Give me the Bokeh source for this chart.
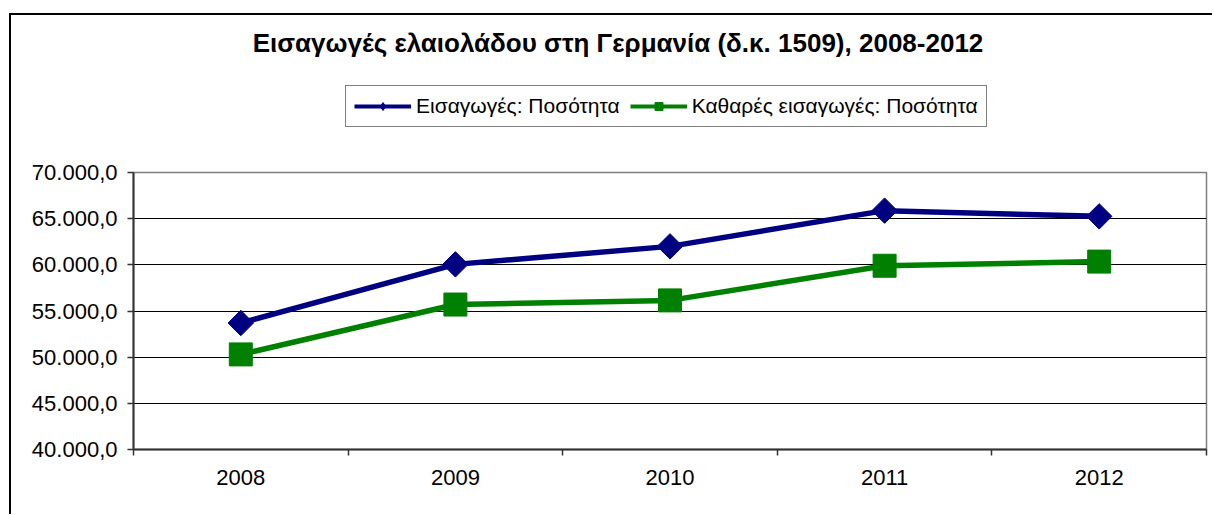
import math
from bokeh.plotting import figure
from bokeh.layouts import column
from bokeh.models import FixedTicker, Legend, LegendItem, Label, Range1d
from bokeh.embed import file_html
from bokeh.resources import INLINE

title_text = "Εισαγωγές ελαιολάδου στη Γερμανία (δ.κ. 1509), 2008-2012"
years = [2008, 2009, 2010, 2011, 2012]
imports_qty = [53700, 60050, 62000, 65870, 65250]
net_imports_qty = [50300, 55700, 56150, 59900, 60350]
series_names = ["Εισαγωγές: Ποσότητα", "Καθαρές εισαγωγές: Ποσότητα"]
y_ticks = [40000, 45000, 50000, 55000, 60000, 65000, 70000]
y_tick_labels = ["40.000,0", "45.000,0", "50.000,0", "55.000,0", "60.000,0", "65.000,0", "70.000,0"]

FONT = "Liberation Sans"
BLUE = "#000080"
GREEN = "#008000"

W = 1201
BL, BR = 122, 6
FW = W - BL - BR    # frame width shared by both (column aligns the frames)
HH = 135            # header (title + legend) height
HM = 364            # main plot height

# ---------- header: title + legend ----------
hdr = figure(width=W, height=HH, output_backend="svg", toolbar_location=None,
             x_range=Range1d(0, FW), y_range=Range1d(0, HH),
             x_axis_type=None, y_axis_type=None,
             min_border_left=BL, min_border_right=BR,
             min_border_top=0, min_border_bottom=0)
hdr.outline_line_color = None
hdr.background_fill_color = "white"
hdr.border_fill_color = "white"
hdr.grid.visible = False

# legend proxies: same data, lying outside the header's view
hl1 = hdr.line(years, imports_qty, line_color=BLUE, line_width=4)
hs1 = hdr.scatter(years, imports_qty, marker="diamond", size=14,
                  fill_color=BLUE, line_color=BLUE)
hl2 = hdr.line(years, net_imports_qty, line_color=GREEN, line_width=4)
hs2 = hdr.scatter(years, net_imports_qty, marker="square", size=10,
                  fill_color=GREEN, line_color=GREEN)

legend = Legend(items=[LegendItem(label=series_names[0], renderers=[hl1, hs1]),
                       LegendItem(label=series_names[1], renderers=[hl2, hs2])],
                orientation="horizontal", location=(212, 23))
legend.label_text_font = FONT
legend.label_text_font_size = "21px"
legend.label_text_color = "black"
legend.glyph_width = 57
legend.glyph_height = 20
legend.label_standoff = 5
legend.spacing = 10
legend.padding = 8
legend.margin = 0
legend.border_line_color = "black"
legend.border_line_width = 1
legend.background_fill_alpha = 1
hdr.add_layout(legend, "center")

title = Label(x=484.5, y=108, text=title_text,
              text_font=FONT, text_font_size="26px", text_font_style="bold",
              text_align="center", text_baseline="alphabetic", text_color="black")
hdr.add_layout(title)

# ---------- main chart ----------
p = figure(width=W, height=HM, output_backend="svg", toolbar_location=None,
           x_range=Range1d(years[0] - 0.5, years[-1] + 0.5),
           y_range=Range1d(y_ticks[0], y_ticks[-1]),
           min_border_left=BL, min_border_top=22, min_border_right=BR, min_border_bottom=65)
p.background_fill_color = "white"
p.border_fill_color = "white"
p.outline_line_color = "#808080"
p.outline_line_width = 1.5

p.xaxis.ticker = FixedTicker(ticks=years, minor_ticks=[y - 0.5 for y in years] + [years[-1] + 0.5])
p.xaxis.major_tick_line_color = None
p.xaxis.minor_tick_out = 6
p.xaxis.minor_tick_in = 0
p.xaxis.minor_tick_line_color = "#333333"
p.xaxis.minor_tick_line_width = 1.5
p.xaxis.axis_line_color = "#333333"
p.xaxis.axis_line_width = 2
p.xaxis.major_label_text_font = FONT
p.xaxis.major_label_text_font_size = "22px"
p.xaxis.major_label_text_color = "black"
p.xaxis.major_label_standoff = 14

p.yaxis.ticker = FixedTicker(ticks=y_ticks)
p.yaxis.major_label_overrides = {t: l for t, l in zip(y_ticks, y_tick_labels)}
p.yaxis.minor_tick_line_color = None
p.yaxis.major_tick_out = 6
p.yaxis.major_tick_in = 0
p.yaxis.major_tick_line_color = "#333333"
p.yaxis.major_tick_line_width = 1.5
p.yaxis.axis_line_color = "#333333"
p.yaxis.axis_line_width = 2
p.yaxis.major_label_text_font = FONT
p.yaxis.major_label_text_font_size = "22px"
p.yaxis.major_label_text_color = "black"
p.yaxis.major_label_standoff = 10

p.xgrid.grid_line_color = None
p.ygrid.ticker = FixedTicker(ticks=y_ticks[1:-1])
p.ygrid.grid_line_color = "black"
p.ygrid.grid_line_width = 1

p.line(years, imports_qty, line_color=BLUE, line_width=5.5)
p.scatter(years, imports_qty, marker="square", angle=math.pi / 4, size=18,
          fill_color=BLUE, line_color=BLUE)
p.line(years, net_imports_qty, line_color=GREEN, line_width=5.5)
p.scatter(years, net_imports_qty, marker="square", size=23, fill_color=GREEN, line_color=GREEN)

layout = column(hdr, p, spacing=0,
                styles={"margin-left": "9px", "margin-top": "13px",
                        "border-left": "2px solid black", "border-top": "2px solid black"})

open("out.html", "w").write(file_html(layout, INLINE))
